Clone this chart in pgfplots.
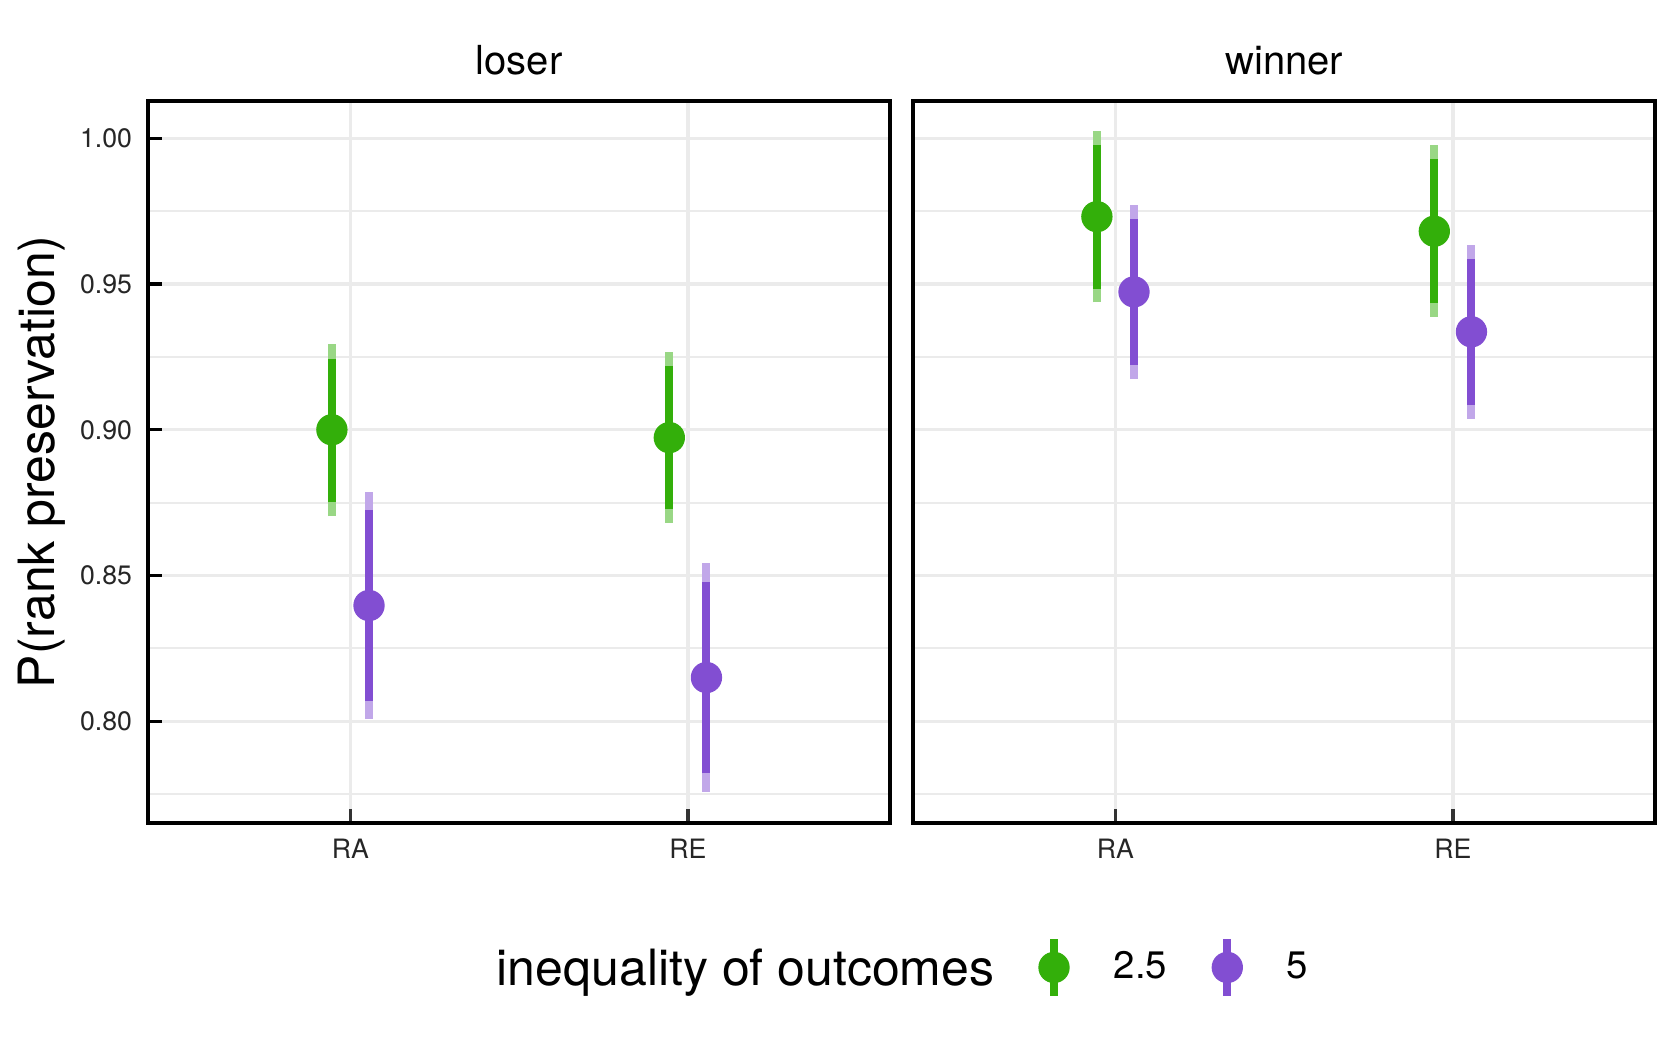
\documentclass[border=0pt]{standalone}
\usepackage{pgfplots}
\pgfplotsset{compat=1.18}
\usepackage{pgfplotstable}
\usepackage{fontspec}
\setmainfont{TeX Gyre Heros}
\definecolor{grn}{RGB}{51,175,10}
\definecolor{prp}{RGB}{130,78,210}
\definecolor{gridc}{RGB}{235,235,235}

% x = dodged position (RA=1, RE=2); y = estimate
\pgfplotstableread{
x y
0.945 0.9000
1.945 0.8973
}\loserG
\pgfplotstableread{
x y
1.055 0.8397
2.055 0.8150
}\loserP
\pgfplotstableread{
x y
0.945 0.9731
1.945 0.9681
}\winnerG
\pgfplotstableread{
x y
1.055 0.9473
2.055 0.9336
}\winnerP

\pgfplotsset{
  panel/.style={
    scale only axis, width=222.7pt, height=216.7pt, anchor=south west,
    xmin=0.4, xmax=2.6, ymin=0.7651, ymax=1.0129,
    xtick={1,2}, xticklabels={RA,RE},
    ytick={0.80,0.85,0.90,0.95,1.00},
    minor ytick={0.775,0.825,0.875,0.925,0.975},
    grid=both, xmajorgrids=true, ymajorgrids=true, yminorgrids=true,
    major grid style={gridc, line width=1pt},
    minor grid style={gridc, line width=0.55pt},
    minor tick length=0pt,
    tick align=inside, major tick length=4.3pt,
    xtick pos=left, ytick pos=left,
    x tick style={black!80, line width=1.1pt},
    y tick style={black, line width=1pt},
    axis line style={black, line width=1.2pt},
    tick label style={font=\fontsize{8}{9.6}\selectfont, inner sep=0pt, text=black!85},
    xticklabel style={yshift=-4.6pt},
    yticklabel style={xshift=-4.6pt},
    title style={at={(0.5,1)}, anchor=base, yshift=1.7pt, inner sep=0pt, font=\fontsize{12}{14}\selectfont},
  },
  seg/.style={line width=2.4pt, unbounded coords=jump},
  pts/.style={only marks, mark=*, mark size=4.5pt, mark options={draw=none}},
  legkey/.style={legend image code/.code={
      \draw[line width=2.4pt] (0pt,-8.5pt) -- (0pt,8.5pt);
      \fill (0pt,0pt) circle (4.5pt);}},
}

\begin{document}
\begin{tikzpicture}
\useasboundingbox (0pt,0pt) rectangle (504pt,315pt);

\begin{axis}[panel, at={(44.4pt,68.1pt)}, title={loser},
    yticklabels={0.80,0.85,0.90,0.95,1.00},
    ylabel={P(rank preservation)},
    ylabel style={at={(axis description cs:-0.1253,0.5)}, anchor=base, inner sep=0pt,
                  font=\fontsize{15}{18}\selectfont},
    legend columns=-1, legend cell align=left,
    legend style={at={(axis description cs:1.1994,-0.2)}, anchor=west, draw=none, fill=none,
                  inner sep=0pt, outer sep=0pt, font=\fontsize{11.5}{13}\selectfont,
                  nodes={inner sep=0pt},
                  /tikz/every odd column/.append style={column sep=13.2pt},
                  /tikz/every even column/.append style={column sep=13.4pt}},
  ]
  % light (outer) intervals
  \addplot[seg, grn!50!white, forget plot] coordinates {(0.945,0.8704) (0.945,0.9294) (nan,nan) (1.945,0.8681) (1.945,0.9266)};
  \addplot[seg, prp!50!white, forget plot] coordinates {(1.055,0.8007) (1.055,0.8787) (nan,nan) (2.055,0.7759) (2.055,0.8542)};
  % dark (inner) intervals
  \addplot[seg, grn, forget plot] coordinates {(0.945,0.8751) (0.945,0.9244) (nan,nan) (1.945,0.8729) (1.945,0.9219)};
  \addplot[seg, prp, forget plot] coordinates {(1.055,0.8070) (1.055,0.8723) (nan,nan) (2.055,0.7821) (2.055,0.8478)};
  % estimates
  \addplot[pts, grn, forget plot] table[x=x, y=y] {\loserG};
  \addplot[pts, prp, forget plot] table[x=x, y=y] {\loserP};
  \addlegendimage{grn, legkey}
  \addlegendentry{2.5}
  \addlegendimage{prp, legkey}
  \addlegendentry{5}
\end{axis}

\begin{axis}[panel, at={(273.9pt,68.1pt)}, title={winner},
    yticklabels={}, y tick style={draw=none}]
  \addplot[seg, grn!50!white] coordinates {(0.945,0.9437) (0.945,1.0025) (nan,nan) (1.945,0.9387) (1.945,0.9978)};
  \addplot[seg, prp!50!white] coordinates {(1.055,0.9174) (1.055,0.9772) (nan,nan) (2.055,0.9038) (2.055,0.9633)};
  \addplot[seg, grn] coordinates {(0.945,0.9483) (0.945,0.9978) (nan,nan) (1.945,0.9434) (1.945,0.9930)};
  \addplot[seg, prp] coordinates {(1.055,0.9223) (1.055,0.9724) (nan,nan) (2.055,0.9086) (2.055,0.9585)};
  \addplot[pts, grn] table[x=x, y=y] {\winnerG};
  \addplot[pts, prp] table[x=x, y=y] {\winnerP};
\end{axis}

\node[anchor=base west, inner sep=0pt, font=\fontsize{15}{18}\selectfont] at (148.8pt,19.3pt) {inequality of outcomes};
\end{tikzpicture}
\end{document}
